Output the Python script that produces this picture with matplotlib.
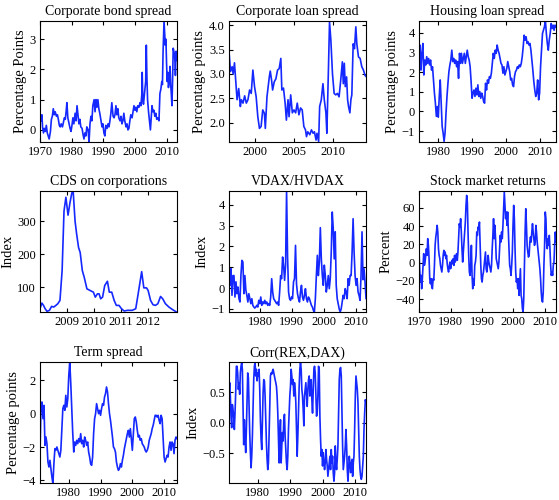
import numpy as np
import matplotlib
matplotlib.use("Agg")
import matplotlib.pyplot as plt

plt.rcParams['font.family'] = ['Liberation Serif', 'DejaVu Serif']

# Corporate bond spread (percentage points)
bond_years = [1970.0, 1970.2, 1970.4, 1970.6, 1970.8, 1971.1, 1971.4, 1971.7, 1972.0, 1972.3,
              1972.6, 1972.9, 1973.3, 1973.6, 1973.9, 1974.2, 1974.5, 1974.8, 1975.2, 1975.5,
              1975.8, 1976.1, 1976.4, 1976.7, 1977.1, 1977.4, 1977.7, 1978.0, 1978.3, 1978.5,
              1978.8, 1979.2, 1979.5, 1979.8, 1980.1, 1980.4, 1980.7, 1981.1, 1981.4, 1981.7,
              1982.0, 1982.3, 1982.6, 1982.9, 1983.3, 1983.6, 1983.9, 1984.2, 1984.5, 1984.8,
              1985.2, 1985.5, 1985.8, 1986.1, 1986.4, 1986.7, 1987.1, 1987.4, 1987.7, 1988.0,
              1988.3, 1988.6, 1988.9, 1989.3, 1989.6, 1989.9, 1990.2, 1990.5, 1990.8, 1991.2,
              1991.5, 1991.8, 1992.1, 1992.4, 1992.7, 1993.1, 1993.4, 1993.7, 1994.0, 1994.3,
              1994.6, 1994.9, 1995.3, 1995.6, 1995.9, 1996.2, 1996.5, 1996.8, 1997.2, 1997.5,
              1997.8, 1998.1, 1998.4, 1998.7, 1999.1, 1999.4, 1999.7, 2000.0, 2000.3, 2000.6,
              2000.9, 2001.3, 2001.6, 2001.9, 2002.2, 2002.3, 2002.5, 2002.7, 2003.1, 2003.4,
              2003.6, 2003.8, 2004.0, 2004.3, 2004.6, 2004.9, 2005.2, 2005.4, 2005.7, 2006.0,
              2006.3, 2006.6, 2006.9, 2007.3, 2007.6, 2007.9, 2008.2, 2008.5, 2008.7, 2008.9,
              2009.2, 2009.4, 2009.6, 2009.8, 2010.0, 2010.2, 2010.4, 2010.6, 2010.8, 2011.1,
              2011.3, 2011.5, 2011.7, 2011.9, 2012.1, 2012.3, 2012.5, 2012.7, 2012.8, 2013.0,
              2013.3]
bond_spread = [0.2, 0.45, 0.3, 0.5, 0.1, -0.1, 0.05, -0.05, 0.15, -0.1,
               -0.2, -0.3, -0.05, 0.35, 0.45, 0.7, 0.5, 0.6, 0.45, 0.5,
               0.35, 0.15, 0.1, 0.2, 0.1, 0.25, 0.4, 0.35, 0.65, 0.9,
               0.4, 0.2, 0.05, -0.05, 0.15, 0.4, 0.2, 0.55, 0.3, 0.8,
               0.5, 0.2, 0.35, 0.1, 0.05, -0.15, -0.3, -0.1, -0.2, 0.1,
               0.0, -0.4, 0.2, 0.45, 0.3, 0.8, 1.0, 0.6, 1.0, 0.75,
               1.0, 0.7, 0.55, 0.3, 0.1, 0.2, -0.1, -0.2, 0.15, 0.05,
               0.2, 0.1, 0.3, 0.55, 0.9, 0.45, 0.4, 0.5, 0.8, 0.5,
               0.7, 0.4, 0.3, 0.45, 0.2, 0.3, 0.55, 0.3, 0.1, 0.2,
               0.0, 0.05, 0.3, 0.5, 0.4, 0.6, 0.8, 0.65, 0.75, 0.6,
               0.8, 0.75, 0.9, 0.8, 1.2, 1.9, 1.0, 0.85, 1.3, 1.6,
               2.8, 1.7, 1.0, 0.6, 0.3, 0.0, 0.5, 0.8, 0.6, 0.65,
               0.45, 0.55, 0.35, 0.4, 0.3, 1.2, 1.35, 1.6, 1.5, 2.6,
               3.6, 3.2, 2.8, 3.0, 2.2, 1.6, 1.9, 1.4, 1.6, 2.1,
               1.5, 1.2, 0.8, 1.6, 2.7, 2.6, 2.5, 2.2, 1.8, 2.6,
               2.3]

# Corporate loan spread (percentage points)
loan_years = [1996.72, 1996.89, 1997.1, 1997.23, 1997.4, 1997.52, 1997.73, 1997.94, 1998.15, 1998.28,
              1998.49, 1998.7, 1998.91, 1999.12, 1999.33, 1999.54, 1999.75, 1999.96, 2000.17, 2000.38,
              2000.59, 2000.8, 2001.01, 2001.22, 2001.34, 2001.55, 2001.85, 2001.97, 2002.14, 2002.27,
              2002.48, 2002.69, 2002.9, 2003.11, 2003.32, 2003.45, 2003.66, 2003.87, 2004.03, 2004.24,
              2004.37, 2004.58, 2004.79, 2005.0, 2005.21, 2005.42, 2005.63, 2005.84, 2006.05, 2006.26,
              2006.47, 2006.6, 2006.76, 2007.02, 2007.23, 2007.44, 2007.61, 2007.82, 2007.94, 2008.15,
              2008.28, 2008.49, 2008.7, 2008.87, 2009.08, 2009.2, 2009.41, 2009.54, 2009.71, 2009.92,
              2010.13, 2010.34, 2010.55, 2010.76, 2010.97, 2011.18, 2011.3, 2011.43, 2011.55, 2011.72,
              2011.85, 2011.97, 2012.14, 2012.27, 2012.39, 2012.56, 2012.73, 2012.9, 2013.03, 2013.24,
              2013.45, 2013.66, 2013.87, 2014.08, 2014.2]
loan_spread = [3.42, 3.05, 3.15, 3.0, 3.23, 2.95, 2.47, 2.7, 2.33, 2.47,
               2.4, 2.55, 2.4, 2.47, 2.67, 2.6, 3.08, 2.74, 2.53, 2.12,
               1.88, 1.92, 2.26, 2.19, 1.88, 2.53, 2.94, 3.06, 2.87, 2.67,
               2.84, 2.9, 3.08, 3.11, 3.32, 2.67, 2.71, 2.4, 2.05, 2.47,
               2.12, 2.57, 2.2, 2.26, 2.2, 2.4, 2.16, 2.3, 2.26, 1.92,
               1.85, 1.71, 1.81, 1.75, 1.85, 1.78, 1.81, 1.64, 1.78, 1.61,
               2.33, 2.47, 2.8, 2.47, 2.2, 1.78, 3.15, 4.07, 3.7, 3.0,
               2.6, 2.57, 2.6, 2.53, 2.87, 3.25, 2.8, 3.22, 2.74, 2.94,
               2.47, 2.33, 2.2, 2.47, 2.57, 3.62, 3.52, 3.97, 3.62, 3.35,
               3.32, 3.15, 3.08, 2.97, 2.95]

# Housing loan spread (percentage points), evenly spaced in time
housing_spread = [3.11, 3.37, 2.1, 2.95, 3.45, 1.85, 2.61, 2.36, 2.78, 2.44,
                  2.69, 2.36, 2.61, 2.1, 2.27, 1.6, 0.93, 0.42, -0.25, 0.25,
                  -0.29, 0.76, 1.6, 0.42, -0.76, -1.09, -1.52, -1.09, -0.08, 0.76,
                  1.43, 2.02, 2.36, 2.61, 3.11, 2.53, 2.69, 2.44, 2.61, 2.27,
                  2.53, 1.68, 2.95, 2.44, 2.95, 2.44, 2.69, 2.95, 2.44, 2.78,
                  3.11, 2.78, 2.61, 2.27, 1.52, 0.67, 0.93, 1.09, 0.76, 1.18,
                  0.84, 1.35, 0.76, 1.01, 0.67, 0.93, 0.76, 0.5, 0.42, 1.43,
                  1.09, 1.6, 1.43, 1.77, 1.68, 1.94, 2.44, 2.95, 2.69, 3.11,
                  2.95, 3.37, 3.11, 2.95, 2.69, 2.44, 2.36, 1.94, 2.27, 1.85,
                  2.02, 2.19, 2.53, 2.27, 2.02, 1.6, 1.68, 1.35, 1.26, 1.77,
                  2.02, 2.1, 2.27, 2.19, 2.36, 2.27, 2.44, 2.78, 3.28, 3.87,
                  3.62, 3.79, 3.45, 3.54, 3.37, 3.45, 3.11, 2.61, 2.1, 1.52,
                  1.09, 0.76, 0.93, 1.6, 0.59, 0.93, 2.27, 3.11, 3.96, 4.12,
                  4.29, 4.63, 3.96, 3.45, 3.11, 3.62, 3.96, 4.46, 4.21, 4.38,
                  4.12, 4.38, 4.29]

# CDS on corporations (index)
cds_years = [2008.02, 2008.07, 2008.13, 2008.19, 2008.26, 2008.35, 2008.43, 2008.51, 2008.59, 2008.66,
             2008.74, 2008.82, 2008.89, 2008.96, 2009.04, 2009.11, 2009.18, 2009.23, 2009.3, 2009.36,
             2009.43, 2009.49, 2009.57, 2009.64, 2009.74, 2009.86, 2009.98, 2010.05, 2010.13, 2010.19,
             2010.25, 2010.32, 2010.4, 2010.5, 2010.57, 2010.66, 2010.75, 2010.83, 2010.93, 2011.02,
             2011.12, 2011.24, 2011.42, 2011.55, 2011.64, 2011.77, 2011.85, 2011.95, 2012.01, 2012.1,
             2012.19, 2012.28, 2012.37, 2012.47, 2012.55, 2012.65, 2012.78, 2012.9, 2013.02, 2013.08]
cds_index = [40, 52, 45, 35, 27, 30, 42, 40, 45, 50,
             60, 150, 330, 372, 318, 355, 385, 390, 300, 260,
             220, 205, 150, 130, 95, 90, 85, 70, 80, 80,
             65, 70, 105, 118, 85, 85, 60, 45, 45, 35,
             28, 30, 30, 35, 80, 147, 98, 98, 90, 60,
             47, 45, 50, 72, 65, 50, 40, 33, 27, 24]

# VDAX/HVDAX (standardised index), evenly spaced in time
vdax_index = [0.77, 0.13, 0.93, -0.35, 0.6, 0.6, -0.43, 0.3, -0.27, 0.05,
              -0.5, -0.67, 0.6, 1.33, 1.25, -0.27, 0.6, -0.11, -0.35, -0.67,
              -0.27, -0.51, -0.75, -0.51, -0.83, -0.91, -0.96, -0.91, -0.83, -0.91,
              -0.59, -0.75, -0.43, -0.83, -0.67, -0.75, -0.59, -0.75, -0.67, -0.83,
              -0.75, -0.83, -0.43, 0.45, -0.19, -0.51, -0.59, -0.67, -0.75, -0.67,
              -0.83, -0.19, 0.6, 0.45, 1.49, 1.09, 0.37, 1.09, 4.66, 1.5,
              -0.19, -0.51, -0.59, -0.43, -0.51, 0.3, 0.45, 2.05, 0.2, -0.27,
              -0.51, -0.67, -0.19, 0.13, -0.43, -0.59, -0.35, -0.03, -0.51, -0.67,
              -0.43, -0.51, -0.67, -0.83, -0.91, -1.07, -1.15, -0.5, 0.6, 1.57,
              0.6, 1.25, 2.9, 1.4, 0.6, 0.13, 1.1, 0.6, -0.19, 0.13,
              0.6, -0.03, 0.45, 1.73, 3.65, 2.85, 1.4, 2.7, 0.13, -0.51,
              -0.75, -1.0, -1.15, -1.0, -0.67, -0.35, -0.51, -0.03, -0.19, -0.51,
              0.45, 0.13, 0.6, 0.6, 1.73, 3.33, 1.73, 0.6, 0.13, 0.45,
              -0.19, -0.35, -0.59, 0.6, 2.7, 0.4, 0.93, 0.3, -0.5]

# Stock market returns (percent), evenly spaced in time
stock_returns = [13.5, -6.6, -21.2, -13.9, -28.5, -17.5, -2.9, 9.9, -2.9, 0.7,
                 8.0, 15.3, 8.0, 26.3, 19.0, 4.4, -17.5, -23.0, -17.5, -26.6,
                 -28.5, -17.5, -19.3, -2.9, 19.0, 28.1, 33.6, 40.9, 33.6, 15.3,
                 8.0, 4.4, -2.9, -6.6, -10.2, -2.9, 8.0, 13.5, 8.0, 11.7,
                 4.4, 8.0, -1.1, -6.6, -10.2, -4.7, 0.7, -6.6, -2.9, 2.6,
                 -1.1, 4.4, -2.9, 8.0, 0.7, 6.2, 9.9, 2.6, 11.7, 28.1,
                 42.7, 39.1, 48.2, 33.6, 15.3, 0.7, 11.7, 22.6, 33.6, 44.5,
                 62.8, 73.7, 66.4, 33.6, 8.0, -10.2, -13.9, -2.9, 19.0, -13.9,
                 -28.5, -17.5, -24.8, -2.9, 0.7, 8.0, 33.6, 29.9, 39.1, 37.2,
                 44.5, 22.6, -2.9, -17.5, -21.2, -13.9, -10.2, -2.9, 4.4, 11.7,
                 -6.6, -10.2, -2.9, 8.0, 0.7, -2.9, -6.6, -10.2, -2.9, 15.3,
                 29.9, 48.2, 26.3, 40.9, 26.3, 4.4, 0.7, -2.9, -6.6, 0.7,
                 15.3, 29.9, 22.6, 33.6, 26.3, 40.9, 59.1, 77.4, 62.8, 48.2,
                 55.5, 40.9, 55.5, 33.6, 15.3, -2.9, -6.6, -13.9, -2.9, 11.7,
                 40.9, 62.8, 48.2, 15.3, -10.2, -21.2, -17.5, -28.5, -17.5, -35.8,
                 -21.2, -6.6, -35.8, -39.4, -50.4, -54.0, -39.4, -2.9, 33.6, 59.1,
                 40.9, 19.0, 11.7, 6.2, 8.0, 22.6, 28.1, 22.6, 33.6, 42.7,
                 33.6, 26.3, 19.0, 22.6, 40.9, 33.6, 22.6, 15.3, 8.0, 0.7,
                 -6.6, -17.5, -32.1, -41.2, -43.1, -32.1, -2.9, 19.0, 55.5, 48.2,
                 22.6, 15.3, 26.3, 19.0, 29.9, 15.3, -2.9, -13.9, -10.2, -13.9,
                 -2.9, 0.7, 19.0, 33.6, 22.6]

# Term spread (percentage points), evenly spaced in time
term_spread = [-2.4, 0.5, 0.7, -0.3, 0.5, -1.9, -1.4, -1.8, -2.9, -3.2,
               -2.8, -3.3, -3.8, -4.2, -3.0, -2.1, -2.2, -2.0, -2.2, -2.4,
               -2.6, -2.2, -1.0, 0.3, 0.5, 0.2, 1.1, 0.4, 0.9, 2.3,
               3.1, 1.8, 0.3, -1.2, -2.3, -1.7, -1.9, -1.6, -1.8, -1.5,
               -1.7, -1.2, -1.8, -1.6, -2.0, -1.4, -1.6, -1.9, -1.7, -2.3,
               -2.6, -3.0, -3.1, -2.6, -1.2, -0.3, 0.0, 0.6, 0.3, 0.0,
               0.2, -0.1, 0.3, 0.6, 0.5, 1.0, 1.2, 1.6, 1.3, 0.6,
               0.0, -0.4, -0.9, -1.4, -2.0, -2.1, -2.3, -2.9, -3.2, -3.4,
               -3.3, -3.0, -3.2, -2.8, -2.5, -2.1, -1.8, -1.5, -1.2, -1.0,
               -1.4, -0.9, -1.5, -2.2, -1.2, -0.3, -0.2, -0.5, -1.0, -1.4,
               -1.3, -1.6, -1.5, -1.8, -1.9, -2.0, -2.2, -2.3, -2.2, -2.0,
               -1.6, -1.4, -1.2, -0.9, -0.7, -0.4, -0.1, -0.1, -0.2, -0.1,
               -0.4, -0.6, -0.1, -0.3, -1.5, -2.6, -2.9, -2.7, -2.5, -2.6,
               -2.0, -1.7, -2.2, -1.7, -1.8, -2.4, -1.6, -1.4, -1.5]

# Corr(REX,DAX), evenly spaced in time
corr_rex_dax = [0.49, 0.66, 0.44, 0.11, -0.08, 0.3, 0.22, 0.11, -0.11, 0.16,
                0.49, 0.93, 0.93, 0.82, 0.55, 0.66, 0.47, 0.82, 0.93, 0.99,
                0.88, 0.27, -0.36, 0.05, -0.27, -0.49, -0.11, 0.38, 0.82, 0.74,
                0.27, -0.16, -0.49, -0.74, -0.55, -0.22, 0.27, 0.71, 0.93, 0.99,
                0.77, 0.88, 0.69, 0.82, 0.77, 0.88, 0.55, 0.05, -0.27, -0.44,
                0.0, 0.49, 0.71, 0.69, 0.44, 0.05, -0.33, -0.6, -0.77, -0.66,
                -0.22, 0.27, 0.77, 0.82, 0.8, 0.85, 0.88, 0.82, 0.77, 0.71,
                0.66, 0.6, 0.44, 0.16, -0.22, -0.66, -0.22, 0.05, -0.66, -0.38,
                -0.16, -0.3, 0.05, 0.14, -0.22, -0.44, -0.66, -0.77, -0.55, -0.11,
                0.16, 0.44, 0.6, 0.88, 0.77, 0.63, 0.71, 0.44, 0.66, 0.55,
                0.33, -0.11, -0.55, -0.22, 0.22, 0.6, 0.88, 0.99, 0.88, 0.55,
                0.44, 0.22, -0.05, 0.44, 0.55, 0.66, 0.44, 0.27, 0.55, 0.71,
                0.77, 0.44, 0.66, 0.71, 0.38, 0.16, 0.55, 0.88, 0.93, 0.82,
                0.44, 0.11, 0.16, 0.44, 0.93, 0.88, 0.11, -0.27, -0.55, -0.44,
                -0.71, -0.49, -0.66, -0.77, -0.66, -0.44, -0.6, -0.71, -0.88, -0.77,
                -0.66, -0.55, -0.77, -0.44, -0.66, -0.55, -0.82, -0.96, -0.82, -0.38,
                -0.66, -0.77, -0.6, -0.38, 0.16, 0.71, 0.88, 0.91, 0.77, 0.16,
                -0.38, -0.77, -0.66, -0.55, -0.38, -0.11, -0.38, -0.77, -0.96, -0.77,
                -0.55, -0.66, -0.82, -0.71, -0.6, -0.88, -0.66, -0.55, -0.11, 0.44,
                0.77, 0.66, 0.55, 0.33, -0.11, -0.55, -0.77, -0.88, -0.93, -0.88,
                -0.71, -0.55, -0.11, 0.16, 0.38, 0.33]

housing_years = np.linspace(1974.4, 2014.7, len(housing_spread))
vdax_years = np.linspace(1970.3, 2013.2, len(vdax_index))
stock_years = np.linspace(1969.9, 2013.6, len(stock_returns))
term_years = np.linspace(1971.0, 2014.0, len(term_spread))
corr_years = np.linspace(1971.1, 2013.4, len(corr_rex_dax))

panels = [
    ("Corporate bond spread", "Percentage Points", bond_years, bond_spread,
     (1970, 2013.3), (-0.4, 3.6), [1970, 1980, 1990, 2000, 2010], [0, 1, 2, 3]),
    ("Corporate loan spread", "Percentage points", loan_years, loan_spread,
     (1996.7, 2014.2), (1.6, 4.09), [2000, 2005, 2010], [2, 2.5, 3, 3.5, 4]),
    ("Housing loan spread", "Percentage points", housing_years, housing_spread,
     (1974.4, 2014.7), (-1.55, 4.59), [1980, 1990, 2000, 2010], [-1, 0, 1, 2, 3, 4]),
    ("CDS on corporations", "Index", cds_years, cds_index,
     (2008.0, 2013.08), (25, 391), [2009, 2010, 2011, 2012], [100, 200, 300]),
    ("VDAX/HVDAX", "Index", vdax_years, vdax_index,
     (1970.3, 2013.2), (-1.15, 4.66), [1980, 1990, 2000, 2010], [-1, 0, 1, 2, 3, 4]),
    ("Stock market returns", "Percent", stock_years, stock_returns,
     (1969.9, 2013.6), (-54, 78.5), [1970, 1980, 1990, 2000, 2010], [-40, -20, 0, 20, 40, 60]),
    ("Term spread", "Percentage points", term_years, term_spread,
     (1971.0, 2014.0), (-4.16, 3.1), [1980, 1990, 2000, 2010], [-4, -2, 0, 2]),
    ("Corr(REX,DAX)", "Index", corr_years, corr_rex_dax,
     (1971.1, 2013.4), (-0.99, 1.0), [1980, 1990, 2000, 2010], [-0.5, 0, 0.5]),
]

fig = plt.figure(figsize=(5.59, 5.0), dpi=100)

lefts = [40 / 559, 229 / 559, 419 / 559]
bottoms = [1 - 142 / 500, 1 - 312 / 500, 1 - 483 / 500]
w = 137 / 559
h = 121 / 500

for i, (title, ylab, xs, ys, xl, yl, xt, yt) in enumerate(panels):
    ax = fig.add_axes([lefts[i % 3], bottoms[i // 3], w, h])
    ax.plot(xs, ys, color='#1428ff', lw=1.2)
    ax.set_xlim(*xl)
    ax.set_ylim(*yl)
    ax.set_xticks(xt)
    ax.set_yticks(yt)
    ax.set_title(title, fontsize=10, pad=4)
    ax.set_ylabel(ylab, fontsize=10.5, labelpad=2)
    ax.tick_params(direction='in', top=True, right=True, length=3, labelsize=9, pad=3)
    for s in ax.spines.values():
        s.set_linewidth(0.8)

fig.savefig("out.png", dpi=100)
